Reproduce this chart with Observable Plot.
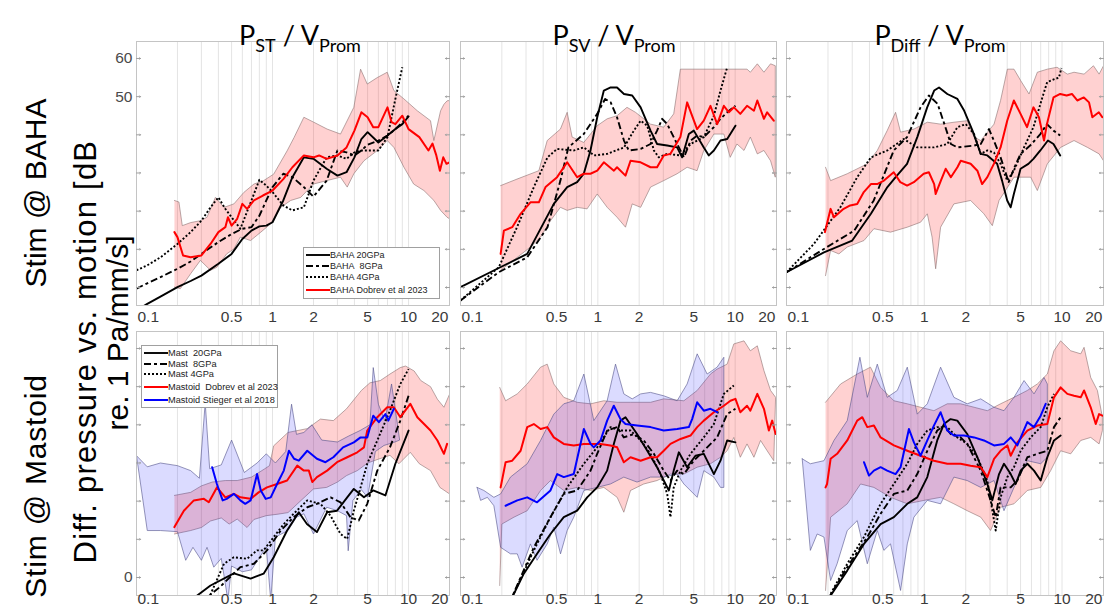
<!DOCTYPE html>
<html><head><meta charset="utf-8">
<script src="https://cdn.jsdelivr.net/npm/d3@7"></script>
<script src="https://cdn.jsdelivr.net/npm/@observablehq/plot@0.6"></script>
<style>
body{margin:0;background:#fff;}
#root{position:relative;width:1104px;height:611px;overflow:hidden;font-family:"Liberation Sans",Arial,sans-serif;}
#root svg{position:absolute;overflow:visible;}
.title{position:absolute;font-family:Lato,"Open Sans",sans-serif;font-size:27px;line-height:27px;white-space:nowrap;color:#000;text-align:center;width:300px;}
.title sub{font-size:18px;vertical-align:-7px;line-height:0;}
.legend{position:absolute;background:#fff;border:1px solid #a0a0a0;font-size:9px;color:#222;}
.legend .row{position:absolute;left:0;white-space:nowrap;height:11px;line-height:11px;}
.legend svg{position:static !important;vertical-align:middle;}
</style></head><body><div id="root"></div>
<script>
// ---------- axis ticks ----------
const xTickLabels = [0.1, 0.5, 1, 2, 5, 10, 20];
const xGrid = [0.2,0.3,0.4,0.5,0.6,0.7,0.8,0.9,1,2,3,4,5,6,7,8,9,10,20];
const yTicks = [0,10,20,30,40,50,60];
const yLabelsTop = [50, 60];
const yLabelsBottom = [0];

// ---------- Stim @ BAHA, P_ST / V_Prom ----------
const baha_st_20 = [[0.1,-6.0],[0.12,-4.3],[0.15,-2.4],[0.2,0.1],[0.25,1.7],[0.3,3.1],[0.4,6.2],[0.5,8.8],[0.6,12.7],[0.7,14.9],[0.8,16.0],[0.9,16.2],[1,17.1],[1.2,22.8],[1.4,28.9],[1.7,34.1],[2,33.7],[2.5,31.1],[3,29.3],[3.5,30.2],[4,34.1],[4.5,38.9],[5,40.7],[6,38.0],[7,39.8],[8,41.5],[9,42.8],[10,44.8]];
const baha_st_8 = [[0.1,-0.3],[0.12,1.1],[0.15,2.7],[0.2,4.9],[0.25,6.8],[0.3,8.8],[0.4,11.9],[0.5,14.0],[0.6,15.4],[0.7,15.8],[0.8,18.8],[0.9,22.8],[1,26.3],[1.2,29.8],[1.4,28.9],[1.7,26.3],[2,23.8],[2.5,28.0],[3,35.9],[3.5,35.4],[4,34.6],[4.5,35.9],[5,37.4],[6,38.5],[7,39.8],[8,41.5],[9,43.3],[10,45.0]];
const baha_st_4 = [[0.1,4.5],[0.12,5.8],[0.15,7.9],[0.2,11.4],[0.25,14.5],[0.3,17.5],[0.35,21.0],[0.4,23.6],[0.45,20.6],[0.5,18.4],[0.58,15.4],[0.7,22.8],[0.8,28.2],[0.9,26.7],[1,25.0],[1.2,21.5],[1.4,20.2],[1.7,21.0],[2,28.0],[2.5,34.1],[3,34.6],[3.5,33.7],[4,35.4],[4.5,35.9],[5,35.9],[6,35.9],[7,39.4],[8,49.4],[9,57.7]];
const baha_st_dobrev = [[0.19,14.5],[0.2,13.2],[0.22,8.4],[0.25,7.9],[0.3,8.4],[0.35,11.4],[0.4,14.5],[0.45,15.8],[0.47,18.4],[0.5,16.2],[0.55,18.0],[0.6,21.9],[0.65,20.6],[0.73,22.8],[0.85,24.1],[1,25.4],[1.2,28.4],[1.4,31.5],[1.7,34.6],[2,34.1],[2.2,34.6],[2.5,33.7],[3,34.6],[3.5,36.7],[4,41.1],[4.5,45.9],[5,44.6],[5.5,42.0],[6,42.0],[7,47.2],[7.5,43.3],[8,42.8],[9,45.0],[10,41.5],[12,39.4],[14,35.9],[15,37.7],[16,34.6],[17,30.6],[18,34.1],[19,32.4],[20,32.8]];
const baha_st_dobrev_hi = [[0.19,22.8],[0.205,22.4],[0.217,16.2],[0.25,17.0],[0.295,17.5],[0.33,18.4],[0.38,23.6],[0.44,21.0],[0.52,21.9],[0.615,24.9],[0.73,27.1],[0.86,28.0],[1.02,29.7],[1.28,35.8],[1.44,39.3],[1.7,44.6],[2.01,43.3],[2.52,41.5],[3.16,40.2],[3.96,47.2],[4.44,57.2],[4.97,53.3],[5.89,55.0],[6.97,56.4],[7.8,51.6],[9.25,49.4],[11.6,46.3],[14.5,43.7],[15.35,38.5],[17.2,46.3],[18.2,48.0],[19.2,48.9],[20,49.0]];
const baha_st_dobrev_lo = [[0.19,0.1],[0.21,-0.3],[0.25,3.6],[0.295,7.1],[0.35,4.5],[0.39,5.3],[0.46,8.8],[0.52,10.1],[0.58,13.2],[0.69,12.3],[0.82,14.5],[0.97,16.7],[1.15,21.0],[1.36,22.8],[1.61,23.6],[2.0,27.1],[2.5,28.0],[3.16,28.9],[3.54,26.3],[3.96,29.8],[4.7,33.2],[5.9,35.9],[6.97,38.5],[7.8,36.7],[9.25,31.5],[10.9,27.1],[12.97,25.4],[15.35,22.8],[17.2,20.2],[19.2,18.4],[20,18.0]];

// ---------- Stim @ BAHA, P_SV / V_Prom ----------
const baha_sv_20 = [[0.1,0.1],[0.19,5.1],[0.306,8.8],[0.478,21.9],[0.598,26.3],[0.707,27.6],[0.79,29.8],[0.884,35.9],[0.99,44.6],[1.106,51.6],[1.24,52.4],[1.38,52.4],[1.55,50.7],[1.78,50.3],[2.05,47.2],[2.42,41.1],[2.7,37.6],[3.2,37.2],[3.78,36.7],[4.11,34.1],[4.6,40.2],[5.0,41.1],[5.91,36.7],[6.43,34.6],[7.0,35.9],[7.82,38.5],[8.75,38.9],[10.05,42.4]];
const baha_sv_8 = [[0.1,-3.4],[0.19,4.0],[0.306,7.9],[0.43,15.8],[0.534,28.0],[0.61,36.7],[0.79,40.2],[0.99,45.5],[1.13,49.4],[1.24,48.5],[1.38,44.6],[1.55,38.5],[1.68,35.9],[2.05,36.3],[2.42,37.6],[2.7,41.1],[2.94,44.2],[3.2,42.8],[3.78,37.6],[4.24,34.1],[4.74,38.5],[5.28,39.8],[5.91,39.4],[7.0,42.0],[7.82,44.2],[8.75,45.9],[10.05,47.6]];
const baha_sv_4 = [[0.1,-3.4],[0.19,5.3],[0.258,15.8],[0.342,26.3],[0.43,34.1],[0.505,36.3],[0.67,35.9],[0.79,36.7],[0.94,34.6],[1.17,35.0],[1.55,36.7],[1.83,41.1],[2.05,43.7],[2.29,42.4],[2.56,35.9],[2.78,34.1],[3.2,35.0],[3.99,34.6],[4.74,37.6],[5.91,39.4],[7.0,45.0],[7.82,51.6],[8.75,57.7]];
const baha_sv_dobrev = [[0.196,8.8],[0.207,14.9],[0.238,15.8],[0.274,19.3],[0.323,22.3],[0.372,22.3],[0.416,26.3],[0.505,28.9],[0.598,32.8],[0.707,28.9],[0.79,29.8],[0.884,29.8],[0.99,30.6],[1.106,32.8],[1.31,30.6],[1.38,31.5],[1.59,29.3],[1.73,33.2],[2.05,32.8],[2.42,31.5],[2.7,31.5],[3.02,34.6],[3.37,35.0],[3.99,39.4],[4.47,48.5],[5.28,41.5],[5.91,43.7],[6.61,47.6],[7.4,42.8],[8.27,47.6],[9.0,45.9],[9.8,47.2],[10.9,45.5],[12.2,47.6],[13.7,46.3],[14.5,49.0],[16.2,44.2],[17.1,45.9],[19.1,43.7]];
const baha_sv_dobrev_hi = [[0.196,26.7],[0.258,28.4],[0.372,30.6],[0.428,38.5],[0.534,41.5],[0.598,45.9],[0.65,39.4],[0.79,38.0],[0.99,42.4],[1.17,44.2],[1.38,45.0],[1.63,47.2],[1.88,45.9],[2.16,44.2],[2.42,42.8],[3.02,42.0],[3.57,45.5],[3.99,57.2],[12.2,57.2],[12.9,56.4],[14.5,58.6],[16.2,56.4],[18.1,58.6],[19.6,58.1]];
const baha_sv_dobrev_lo = [[0.196,4.5],[0.323,10.6],[0.383,13.2],[0.452,17.5],[0.534,21.0],[0.598,20.2],[0.707,21.0],[0.835,20.6],[0.99,24.5],[1.17,21.0],[1.38,18.4],[1.59,15.8],[1.78,21.9],[2.05,21.0],[2.42,26.3],[3.02,28.0],[3.78,29.8],[4.47,31.5],[5.28,30.6],[5.91,35.9],[7.0,40.2],[8.27,40.2],[9.2,34.1],[10.3,37.6],[11.6,35.9],[12.9,39.4],[14.5,35.0],[16.2,35.9],[18.1,33.2],[19.6,28.9]];

// ---------- Stim @ BAHA, P_Diff / V_Prom ----------
const baha_diff_20 = [[0.1,4.0],[0.187,9.2],[0.3,12.3],[0.41,19.3],[0.54,26.3],[0.62,28.9],[0.75,32.4],[0.89,39.4],[1.05,47.2],[1.18,51.6],[1.28,52.4],[1.47,50.7],[1.74,49.4],[1.95,46.3],[2.24,41.1],[2.57,35.0],[2.87,34.6],[3.38,32.4],[3.67,28.0],[4.0,22.8],[4.24,21.0],[4.47,24.5],[5.0,31.1],[5.7,32.4],[6.2,33.7],[6.96,35.9],[7.9,38.5],[8.67,37.6],[9.7,34.6]];
const baha_diff_8 = [[0.1,4.0],[0.187,10.1],[0.31,14.9],[0.43,22.8],[0.6,35.9],[0.75,39.4],[0.94,47.2],[1.08,50.3],[1.25,48.1],[1.4,42.8],[1.56,37.6],[1.74,36.7],[2.3,37.2],[2.57,37.6],[2.95,41.5],[3.2,38.5],[3.58,34.1],[4.1,27.6],[4.47,31.1],[5.0,35.0],[5.87,37.2],[6.96,40.2],[7.77,42.8],[8.67,41.1],[9.7,39.8]];
const baha_diff_4 = [[0.1,4.0],[0.158,11.4],[0.246,21.0],[0.326,28.9],[0.41,34.1],[0.54,35.9],[0.71,38.9],[0.89,36.7],[1.18,36.7],[1.47,37.6],[1.74,42.0],[2.0,42.8],[2.3,40.2],[2.57,35.0],[2.87,35.9],[3.2,35.4],[3.58,32.4],[4.0,28.0],[4.47,30.6],[5.3,36.7],[6.2,42.0],[7.2,49.8],[7.8,53.8],[8.7,54.5],[9.5,55.0],[9.9,57.5]];
const baha_diff_dobrev = [[0.19,14.5],[0.209,20.6],[0.221,18.4],[0.26,20.6],[0.29,21.5],[0.326,21.9],[0.364,25.0],[0.41,27.1],[0.455,27.1],[0.51,28.0],[0.6,30.2],[0.67,27.6],[0.75,26.7],[0.84,27.6],[0.99,29.8],[1.08,30.2],[1.18,27.1],[1.21,24.5],[1.32,28.0],[1.43,31.1],[1.56,28.9],[1.74,31.5],[1.84,33.2],[2.17,32.4],[2.43,30.6],[2.63,27.1],[2.87,28.9],[3.2,32.4],[3.58,36.7],[4.0,43.7],[4.47,49.0],[5.0,45.5],[5.57,42.0],[6.2,47.2],[6.8,44.6],[7.4,38.5],[7.77,42.8],[8.67,49.8],[9.7,50.7],[10.8,50.3],[11.8,50.7],[12.9,49.0],[14.4,49.8],[15.7,48.5],[16.6,44.6],[18.5,45.9],[19.6,44.6]];
const baha_diff_dobrev_hi = [[0.192,31.5],[0.209,28.0],[0.276,29.8],[0.386,32.4],[0.456,35.9],[0.538,41.1],[0.619,45.9],[0.673,40.7],[0.841,41.5],[1.052,43.3],[1.314,42.8],[1.641,43.3],[2.05,43.7],[2.30,39.4],[2.57,38.5],[3.21,42.8],[3.58,49.0],[4.01,57.2],[4.48,57.2],[5.01,54.2],[5.76,50.7],[6.62,56.4],[7.82,57.2],[9.2,57.7],[10.93,55.9],[12.22,56.4],[14.45,55.9],[16.9,58.1],[18.58,55.9],[20,58.1]];
const baha_diff_dobrev_lo = [[0.192,3.1],[0.209,9.7],[0.24,8.8],[0.276,10.6],[0.365,12.3],[0.431,15.4],[0.569,14.5],[0.753,15.8],[0.94,17.1],[1.052,19.3],[1.14,13.2],[1.21,4.9],[1.314,15.8],[1.641,21.9],[2.17,22.8],[2.71,19.3],[3.12,16.2],[3.49,22.8],[4.48,28.9],[5.92,28.9],[6.62,25.4],[7.82,32.4],[9.77,36.7],[12.22,38.5],[15.3,36.7],[18.58,35.0],[20,33.2]];

// ---------- Stim @ Mastoid, P_ST / V_Prom ----------
const mast_st_20 = [[0.24,-6.5],[0.35,-2.1],[0.52,1.1],[0.69,-0.3],[0.86,1.0],[1.02,5.3],[1.28,12.3],[1.56,17.1],[1.79,14.0],[2.12,11.9],[2.52,17.1],[2.98,17.5],[3.54,21.0],[3.96,23.2],[4.7,21.0],[5.5,22.8],[6.76,21.5],[8.0,29.8],[10.0,38.5]];
const mast_st_8 = [[0.3,-6.5],[0.41,-2.5],[0.58,2.7],[0.73,3.6],[0.91,7.1],[1.15,12.3],[1.43,15.8],[1.8,18.4],[2.12,19.3],[2.67,21.0],[3.16,19.7],[3.74,15.8],[4.3,14.9],[4.97,19.3],[5.89,28.0],[7.3,34.1],[8.7,41.1],[10.0,47.6]];
const mast_st_4 = [[0.33,-6.5],[0.44,3.6],[0.52,5.3],[0.65,4.9],[0.77,7.1],[0.86,7.1],[1.02,10.6],[1.21,14.0],[1.43,16.7],[1.8,20.2],[2.25,19.3],[2.67,16.2],[3.16,11.4],[3.54,10.1],[3.96,17.5],[4.44,23.6],[4.97,29.8],[5.89,35.9],[7.3,43.7],[8.7,50.7],[10.0,54.6]];
const mast_st_dobrev = [[0.19,13.2],[0.223,17.5],[0.264,20.2],[0.313,20.6],[0.34,19.7],[0.39,23.6],[0.45,21.0],[0.52,21.9],[0.58,21.0],[0.69,20.6],[0.79,22.3],[0.91,23.6],[1.08,24.5],[1.28,25.4],[1.52,29.3],[1.7,28.0],[1.85,28.0],[1.96,25.0],[2.12,26.3],[2.52,28.0],[2.98,30.2],[3.54,31.5],[4.2,32.8],[4.7,34.1],[4.97,38.5],[5.89,42.0],[6.97,44.6],[7.8,44.6],[8.7,42.0],[10.3,45.5],[11.6,42.0],[13.0,40.2],[14.5,38.5],[16.3,35.9],[18.2,32.4],[19.2,35.0]];
const mast_st_dobrev_hi = [[0.19,21.5],[0.25,22.3],[0.3,24.0],[0.36,25.0],[0.45,25.4],[0.55,25.4],[0.7,26.3],[0.87,28.4],[0.95,29.3],[1.02,34.5],[1.3,38.0],[1.8,39.0],[2.25,41.5],[2.8,41.1],[3.5,44.2],[4.5,49.0],[5.2,51.0],[6.2,51.6],[7.3,53.3],[8.7,55.0],[9.5,55.4],[11,54.1],[12.3,51.6],[14.5,50.0],[16.3,46.7],[18.2,44.6],[20,48.0]];
const mast_st_dobrev_lo = [[0.19,11.4],[0.25,12.3],[0.3,13.1],[0.35,14.8],[0.42,15.6],[0.48,14.0],[0.55,15.3],[0.65,13.1],[0.73,15.2],[0.9,16.2],[1.1,16.6],[1.3,17.0],[1.6,20.0],[2.0,23.2],[2.5,23.6],[3.0,25.0],[3.5,26.7],[4.2,28.0],[5.0,30.0],[6.0,31.0],[7.3,32.0],[8.5,29.8],[10.3,32.8],[12,29.8],[14.5,28.0],[17,23.6],[20,21.9]];
const mast_st_stieger = [[0.36,28.9],[0.39,24.5],[0.43,20.2],[0.46,20.6],[0.52,21.9],[0.58,20.2],[0.63,19.3],[0.69,20.2],[0.77,27.1],[0.82,22.8],[0.89,20.6],[0.97,21.0],[1.08,24.5],[1.21,28.0],[1.32,33.2],[1.44,31.1],[1.56,30.6],[1.8,33.2],[2.12,31.1],[2.45,30.2],[2.8,31.5],[3.3,34.1],[3.96,35.4],[4.44,36.7],[4.97,36.7],[5.5,42.4],[6.05,40.7],[6.76,42.8],[7.1,41.1],[7.8,44.2]];
const mast_st_stieger_hi = [[0.1,31.9],[0.12,29.0],[0.15,30.0],[0.2,29.3],[0.25,28.0],[0.29,26.0],[0.32,45.8],[0.345,28.5],[0.42,29.5],[0.5,36.0],[0.62,27.5],[0.77,30.0],[0.9,32.4],[1.05,30.0],[1.25,33.0],[1.38,45.4],[1.5,37.5],[1.7,38.0],[1.95,40.0],[2.3,36.0],[3,35.5],[3.6,37.0],[4.4,38.5],[5.2,40.0],[5.5,55.0],[6.0,45.4],[6.7,41.0],[7.5,50.7],[8.3,40.0],[8.6,36.0]];
const mast_st_stieger_lo = [[0.1,31.9],[0.12,12.3],[0.15,12.3],[0.2,12.0],[0.23,4.5],[0.26,7.9],[0.3,4.5],[0.33,7.9],[0.37,2.7],[0.42,5.0],[0.47,-6],[0.5,3.0],[0.6,1.5],[0.7,2.0],[0.9,8.0],[0.97,-6],[1.05,10.6],[1.3,12.3],[1.5,15.8],[1.7,16.7],[2.0,11.4],[2.5,18.4],[3.0,17.5],[3.5,16.2],[3.6,7.0],[3.9,20.2],[4.5,23.0],[5.0,21.0],[5.7,33.0],[6.6,34.6],[7.8,35.4],[8.6,36.0]];

// ---------- Stim @ Mastoid, P_SV / V_Prom ----------
const mast_sv_20 = [[0.225,-7],[0.289,1.0],[0.361,6.2],[0.452,11.4],[0.565,15.8],[0.707,17.5],[0.836,21.0],[0.989,23.6],[1.169,28.0],[1.307,35.0],[1.462,41.1],[1.59,42.0],[1.93,37.6],[2.29,33.2],[2.70,28.9],[3.02,25.4],[3.29,22.8],[3.57,28.0],[3.89,32.8],[4.47,28.9],[5.14,31.9],[5.91,32.4],[7.0,27.1],[7.82,30.6],[8.74,35.9],[10.05,35.4]];
const mast_sv_8 = [[0.225,-7],[0.342,7.9],[0.452,15.8],[0.565,21.9],[0.707,22.8],[0.885,28.0],[0.989,32.4],[1.169,38.5],[1.383,39.4],[1.546,36.7],[1.83,37.6],[2.16,35.9],[2.56,32.4],[3.02,28.0],[3.38,25.4],[3.78,28.0],[4.23,27.1],[5.0,30.6],[5.91,33.2],[7.39,36.7],[8.74,42.8],[10.05,44.2]];
const mast_sv_4 = [[0.225,-7],[0.342,7.1],[0.452,15.8],[0.598,23.6],[0.791,29.8],[0.989,34.1],[1.236,39.4],[1.462,38.5],[1.73,38.5],[2.05,35.9],[2.42,32.4],[2.86,27.1],[3.20,21.9],[3.38,15.8],[3.57,23.6],[4.0,28.0],[4.73,32.4],[5.91,36.7],[7.0,40.2],[8.27,48.1],[9.78,50.3]];
const mast_sv_dobrev = [[0.196,23.6],[0.213,30.2],[0.238,30.6],[0.274,33.2],[0.306,39.4],[0.342,40.2],[0.383,38.9],[0.428,39.4],[0.478,36.7],[0.565,35.0],[0.668,34.6],[0.791,35.0],[1.046,35.0],[1.236,34.6],[1.383,34.1],[1.546,30.2],[1.73,31.5],[2.05,30.6],[2.42,31.5],[2.70,31.5],[3.02,33.2],[3.38,35.0],[4.0,36.3],[4.73,37.2],[5.29,39.4],[5.91,41.1],[7.0,43.3],[8.27,45.0],[9.24,46.3],[10.05,46.8],[10.9,43.3],[12.2,45.0],[12.9,43.7],[14.5,48.1],[16.2,44.2],[17.6,38.5],[18.6,41.1],[19.7,37.6]];
const mast_sv_dobrev_hi = [[0.193,49.8],[0.213,46.3],[0.259,48.1],[0.306,50.7],[0.383,55.1],[0.428,55.9],[0.478,50.7],[0.565,47.2],[0.707,45.9],[0.885,45.5],[1.106,46.3],[1.383,45.9],[1.73,45.9],[2.42,45.9],[3.02,46.8],[4.23,46.3],[5.29,49.0],[6.61,53.3],[7.39,54.6],[8.74,55.9],[9.78,61.2],[11.6,62.0],[12.9,59.4],[14.5,60.7],[16.2,54.2],[18.1,49.0],[19.7,47.2]];
const mast_sv_dobrev_lo = [[0.193,-2.1],[0.2,14.0],[0.245,15.8],[0.306,17.5],[0.383,22.8],[0.452,25.4],[0.565,22.8],[0.707,23.6],[0.885,22.8],[1.106,23.6],[1.383,21.0],[1.546,17.1],[1.73,22.8],[2.16,24.5],[2.70,25.4],[3.38,27.1],[4.23,27.1],[5.29,28.9],[6.61,29.8],[7.82,31.5],[8.74,33.2],[9.78,36.7],[10.9,31.5],[12.2,35.0],[13.7,31.5],[15.3,35.9],[17.1,33.2],[19.1,30.6]];
const mast_sv_stieger = [[0.213,18.8],[0.259,20.2],[0.306,21.0],[0.361,19.7],[0.452,22.8],[0.506,27.1],[0.565,26.3],[0.668,27.1],[0.791,38.9],[0.885,35.0],[0.935,34.1],[1.046,35.9],[1.169,41.1],[1.307,45.0],[1.462,41.5],[1.59,40.2],[1.93,39.8],[2.42,39.4],[3.02,38.5],[3.78,38.9],[4.60,39.4],[4.86,41.5],[5.29,45.9],[5.91,43.7],[6.61,44.2],[7.39,43.3]];
const mast_sv_stieger_hi = [[0.132,23.6],[0.148,22.8],[0.175,21.0],[0.196,21.9],[0.231,26.3],[0.306,29.8],[0.383,35.9],[0.478,42.8],[0.565,45.5],[0.668,46.3],[0.791,53.3],[0.935,41.1],[1.169,46.3],[1.345,55.9],[1.546,48.1],[1.78,46.8],[2.05,48.1],[2.42,48.5],[3.02,47.6],[3.78,46.3],[4.47,50.7],[5.29,58.6],[6.25,53.3],[7.39,55.1],[8.27,57.7]];
const mast_sv_stieger_lo = [[0.132,23.6],[0.14,20.2],[0.157,21.0],[0.175,18.8],[0.196,7.9],[0.231,6.2],[0.259,6.2],[0.281,2.7],[0.323,8.8],[0.361,4.5],[0.428,8.8],[0.478,13.2],[0.535,6.2],[0.598,12.3],[0.668,15.8],[0.791,22.8],[0.989,23.6],[1.236,24.5],[1.546,26.3],[1.93,25.0],[2.42,26.3],[3.02,26.3],[3.78,27.1],[4.23,24.5],[5.29,21.0],[5.91,28.0],[7.0,26.3],[7.82,23.6],[8.27,23.6]];

// ---------- Stim @ Mastoid, P_Diff / V_Prom ----------
const mast_diff_20 = [[0.19,-7],[0.276,1.8],[0.365,8.8],[0.482,14.0],[0.602,15.8],[0.753,19.3],[0.889,21.0],[1.052,26.3],[1.242,35.9],[1.389,40.2],[1.553,41.5],[1.737,41.1],[2.05,37.6],[2.43,31.5],[2.87,24.5],[3.12,20.2],[3.49,27.1],[3.79,29.8],[4.24,27.1],[4.61,24.5],[5.01,28.0],[5.6,29.8],[6.26,28.0],[7.0,25.4],[7.82,31.5],[8.74,35.9],[9.77,37.2]];
const mast_diff_8 = [[0.19,-7],[0.276,2.7],[0.386,10.6],[0.482,16.7],[0.602,21.9],[0.753,22.8],[0.889,27.1],[1.052,33.2],[1.242,38.5],[1.389,39.8],[1.553,37.6],[1.836,36.7],[2.05,35.0],[2.57,28.0],[3.03,20.2],[3.30,15.8],[3.58,23.6],[4.24,23.6],[4.74,25.4],[5.6,31.5],[6.62,32.4],[7.82,33.2],[8.74,39.4],[9.77,42.0]];
const mast_diff_4 = [[0.19,-7],[0.276,3.6],[0.365,10.6],[0.482,19.3],[0.602,24.5],[0.753,29.8],[0.889,35.0],[1.052,38.5],[1.242,39.4],[1.469,39.4],[1.737,36.7],[2.05,35.0],[2.43,31.5],[2.87,25.4],[3.30,12.3],[3.58,21.0],[4.01,26.3],[4.48,28.9],[5.01,33.2],[5.92,36.7],[7.0,39.4],[7.82,44.6],[8.74,48.1]];
const mast_diff_dobrev = [[0.192,23.6],[0.197,24.5],[0.209,31.1],[0.233,32.4],[0.276,35.9],[0.326,41.1],[0.355,42.0],[0.386,39.4],[0.431,39.8],[0.482,36.7],[0.602,34.6],[0.753,33.2],[0.94,31.9],[1.175,30.6],[1.469,29.8],[1.836,29.8],[2.17,29.3],[2.57,28.9],[2.87,26.3],[3.21,31.1],[3.58,33.2],[4.01,34.6],[4.24,31.9],[4.74,35.4],[5.6,38.5],[6.62,39.8],[7.82,40.2],[8.74,47.2],[9.77,49.8],[10.93,48.1],[12.22,47.6],[13.67,47.2],[14.45,49.0],[16.15,44.6],[17.57,40.2],[18.58,42.8],[19.63,42.4]];
const mast_diff_dobrev_hi = [[0.192,45.9],[0.247,50.7],[0.326,53.3],[0.407,55.1],[0.482,49.8],[0.602,46.3],[0.753,45.5],[0.94,44.6],[1.175,43.7],[1.469,45.5],[1.836,45.5],[2.30,44.6],[2.87,43.7],[3.58,45.5],[4.48,47.2],[5.6,49.0],[6.62,50.7],[7.82,53.3],[8.74,59.4],[9.77,62.0],[11.56,59.4],[13.67,58.6],[14.45,60.3],[16.15,52.4],[18.06,49.0],[19.63,42.0]];
const mast_diff_dobrev_lo = [[0.192,-3.4],[0.209,15.8],[0.276,19.3],[0.345,24.5],[0.431,23.6],[0.569,21.0],[0.753,19.3],[0.995,20.2],[1.314,21.0],[1.641,19.3],[2.05,17.5],[2.57,15.8],[3.03,12.3],[3.58,18.4],[4.48,19.3],[5.6,22.8],[7.0,23.6],[8.27,28.0],[9.77,33.2],[11.56,32.4],[13.67,35.9],[16.15,36.7],[18.58,35.0],[19.63,38.5]];
const mast_diff_stieger = [[0.365,30.2],[0.397,26.7],[0.431,28.0],[0.482,28.9],[0.538,28.0],[0.619,27.1],[0.673,28.9],[0.774,38.9],[0.841,35.4],[0.94,31.9],[1.052,35.9],[1.175,39.8],[1.314,43.3],[1.469,38.5],[1.641,37.2],[1.941,37.2],[2.30,36.7],[2.71,35.9],[3.21,34.6],[3.79,35.0],[4.24,36.7],[4.74,34.6],[5.6,40.7],[6.26,39.4],[7.0,42.4],[7.61,45.5]];
const mast_diff_stieger_hi = [[0.13,31.1],[0.149,29.8],[0.187,30.6],[0.221,35.9],[0.276,41.1],[0.341,57.7],[0.386,47.2],[0.456,55.9],[0.538,47.2],[0.637,49.0],[0.753,55.1],[0.889,42.8],[1.052,45.5],[1.314,55.1],[1.641,47.2],[2.05,45.5],[2.57,46.8],[3.21,44.6],[3.79,43.7],[4.48,47.2],[5.3,51.6],[6.26,48.1],[7.40,52.4],[7.82,50.7]];
const mast_diff_stieger_lo = [[0.13,31.1],[0.149,7.1],[0.167,11.4],[0.187,10.6],[0.209,-0.8],[0.233,3.6],[0.276,12.3],[0.326,14.9],[0.386,3.6],[0.456,12.3],[0.509,7.1],[0.569,8.8],[0.673,-3.4],[0.753,8.8],[0.841,15.8],[1.052,20.2],[1.314,19.3],[1.641,26.3],[2.05,25.4],[2.57,23.6],[3.21,25.4],[3.79,17.5],[4.48,23.6],[5.6,30.6],[7.0,29.8],[7.82,31.5]];

// ---------- legends ----------
const legendBaha = ["BAHA 20GPa", "BAHA  8GPa", "BAHA 4GPa", "BAHA Dobrev et al 2023"];
const legendMast = ["Mast  20GPa", "Mast  8GPa", "Mast 4GPa", "Mastoid  Dobrev et al 2023", "Mastoid Stieger et al 2018"];

// ---------- styles ----------
const S = {
  solid:  {stroke:"#000", strokeWidth:1.9},
  dashed: {stroke:"#000", strokeWidth:1.9, strokeDasharray:"7,3,3,3", strokeLinecap:"butt"},
  dotted: {stroke:"#000", strokeWidth:1.9, strokeDasharray:"2,2", strokeLinecap:"butt"},
  red:    {stroke:"#ff0000", strokeWidth:2},
  blue:   {stroke:"#0000ff", strokeWidth:2}
};
const BAND_RED = {fill:"#ff0000", fillOpacity:0.18, stroke:"#8c7070", strokeWidth:0.6};
const BAND_BLUE = {fill:"#0000ff", fillOpacity:0.14, stroke:"#50508a", strokeWidth:0.6};

const toObj = a => a.map(([f, v]) => ({f, v}));
const poly = (hi, lo) => toObj(hi).concat(toObj(lo).reverse());

const root = document.getElementById("root");
const Y_DOMAIN = [-4.72, 64.45];

function panel(cfg) {
  const mL = 40, mR = 4, mT = 2, mB = 30;
  const marks = [];
  marks.push(Plot.ruleX(xGrid, {stroke:"#e4e4e4", strokeWidth:1}));
  for (const b of cfg.bands) {
    marks.push(Plot.line(poly(b.hi, b.lo), {x:"f", y:"v", ...b.style, curve:"linear", clip:true}));
  }
  for (const l of cfg.lines) {
    marks.push(Plot.line(toObj(l.data), {x:"f", y:"v", ...l.style, strokeLinejoin:"round", clip:true}));
  }
  marks.push(Plot.frame({stroke:"#c4c4c4", strokeWidth:1}));
  marks.push(Plot.vector(yTicks, {y:d=>d, frameAnchor:"left", rotate:90, length:4, anchor:"start", stroke:"#a0a0a0", strokeWidth:1}));
  marks.push(Plot.vector(yTicks, {y:d=>d, frameAnchor:"right", rotate:-90, length:4, anchor:"start", stroke:"#a0a0a0", strokeWidth:1}));
  const tf = {frameAnchor:"bottom", dy:cfg.labelDy, fontSize:15.5, fill:"#3a3a3a", fontFamily:"Liberation Sans, Arial, sans-serif"};
  marks.push(Plot.text(xTickLabels.filter(d=>d===0.1), {x:d=>d, text:d=>String(d), textAnchor:"start", dx:1, ...tf}));
  marks.push(Plot.text(xTickLabels.filter(d=>d>0.1 && d<20), {x:d=>d, text:d=>String(d), ...tf}));
  marks.push(Plot.text(xTickLabels.filter(d=>d===20), {x:d=>d, text:d=>String(d), textAnchor:"end", dx:-1, ...tf}));
  if (cfg.yLabels.length) {
    marks.push(Plot.text(cfg.yLabels, {y:d=>d, text:d=>String(d), frameAnchor:"left", textAnchor:"end", dx:-4, fontSize:15.5, fill:"#4a4a4a", fontFamily:"Liberation Sans, Arial, sans-serif"}));
  }
  const svg = Plot.plot({
    width: cfg.w + mL + mR, height: cfg.h + mT + mB,
    marginLeft: mL, marginRight: mR, marginTop: mT, marginBottom: mB,
    x: {type:"log", domain:[0.1, 20], axis:null},
    y: {domain: Y_DOMAIN, axis:null},
    style: {background:"transparent", overflow:"visible"},
    marks
  });
  svg.style.left = (cfg.x - mL) + "px";
  svg.style.top = (cfg.y - mT) + "px";
  root.appendChild(svg);
}

const TOP = 41, BOT = 331, H = 264;
const COLS = [[136, 313], [460, 316], [786, 317]];
const TITLE_CX = [300, 614, 940];

const topPanels = [
  {lines:[baha_st_20, baha_st_8, baha_st_4, baha_st_dobrev], bands:[[baha_st_dobrev_hi, baha_st_dobrev_lo]]},
  {lines:[baha_sv_20, baha_sv_8, baha_sv_4, baha_sv_dobrev], bands:[[baha_sv_dobrev_hi, baha_sv_dobrev_lo]]},
  {lines:[baha_diff_20, baha_diff_8, baha_diff_4, baha_diff_dobrev], bands:[[baha_diff_dobrev_hi, baha_diff_dobrev_lo]]}
];
const botPanels = [
  {lines:[mast_st_20, mast_st_8, mast_st_4, mast_st_dobrev, mast_st_stieger], bands:[[mast_st_dobrev_hi, mast_st_dobrev_lo],[mast_st_stieger_hi, mast_st_stieger_lo]]},
  {lines:[mast_sv_20, mast_sv_8, mast_sv_4, mast_sv_dobrev, mast_sv_stieger], bands:[[mast_sv_dobrev_hi, mast_sv_dobrev_lo],[mast_sv_stieger_hi, mast_sv_stieger_lo]]},
  {lines:[mast_diff_20, mast_diff_8, mast_diff_4, mast_diff_dobrev, mast_diff_stieger], bands:[[mast_diff_dobrev_hi, mast_diff_dobrev_lo],[mast_diff_stieger_hi, mast_diff_stieger_lo]]}
];
const lineStyles = [S.solid, S.dashed, S.dotted, S.red, S.blue];
const bandStyles = [BAND_RED, BAND_BLUE];

[topPanels, botPanels].forEach((row, r) => {
  row.forEach((p, c) => {
    panel({
      x: COLS[c][0], w: COLS[c][1], y: r === 0 ? TOP : BOT, h: H,
      labelDy: r === 0 ? 16 : 8,
      lines: p.lines.map((d, i) => ({data:d, style:lineStyles[i]})),
      bands: p.bands.map((b, i) => ({hi:b[0], lo:b[1], style:bandStyles[i]})),
      yLabels: c === 0 ? (r === 0 ? yLabelsTop : yLabelsBottom) : []
    });
  });
});

// ---------- titles ----------
const titles = [["P","ST"],["P","SV"],["P","Diff"]];
titles.forEach(([p, s], i) => {
  const d = document.createElement("div");
  d.className = "title";
  d.innerHTML = `${p}<sub>${s}</sub> / V<sub>Prom</sub>`;
  d.style.left = (TITLE_CX[i] - 150) + "px";
  d.style.top = "21px";
  root.appendChild(d);
});

// ---------- rotated labels ----------
function rotLabel(text, cx, cy, size, spacing) {
  const d = document.createElement("div");
  d.textContent = text;
  const h = size * 1.2;
  Object.assign(d.style, {position:"absolute", left:(cx - 300) + "px", top:(cy - h / 2) + "px", width:"600px", height:h + "px",
    lineHeight:h + "px", textAlign:"center", fontSize:size + "px", letterSpacing:(spacing || 0) + "px",
    transform:"rotate(-90deg)", whiteSpace:"nowrap", color:"#000"});
  root.appendChild(d);
}
rotLabel("Stim @ BAHA", 36, 193, 30);
rotLabel("Stim @ Mastoid", 36, 486, 30, 0.8);
rotLabel("Diff. pressure vs. motion [dB", 86, 352, 31, 1.2);
rotLabel("re. 1 Pa/mm/s]", 118, 333, 30);

// ---------- legends ----------
function legend(items, styles, box, rowY, fontSize) {
  const d = document.createElement("div");
  d.className = "legend";
  Object.assign(d.style, {left:box[0] + "px", top:box[1] + "px", width:box[2] + "px", height:box[3] + "px", fontSize: fontSize + "px"});
  items.forEach((t, i) => {
    const r = document.createElement("div");
    r.className = "row";
    r.style.top = (rowY[i] - box[1] - 6.5) + "px";
    r.style.left = "2px";
    const st = styles[i];
    r.innerHTML = `<svg width="24" height="6"><line x1="0" y1="3" x2="24" y2="3" stroke="${st.stroke}" stroke-width="${st.strokeWidth}" ${st.strokeDasharray ? `stroke-dasharray="${st.strokeDasharray}"` : ""}/></svg><span>${t.replace(/  /g, "&nbsp; ")}</span>`;
    d.appendChild(r);
  });
  root.appendChild(d);
}
legend(legendBaha, lineStyles, [303, 247, 135, 50], [255, 266, 277, 290], 9);
legend(legendMast, lineStyles, [141, 345, 135, 61], [353, 364, 374, 387, 400], 9.2);
</script></body></html>
